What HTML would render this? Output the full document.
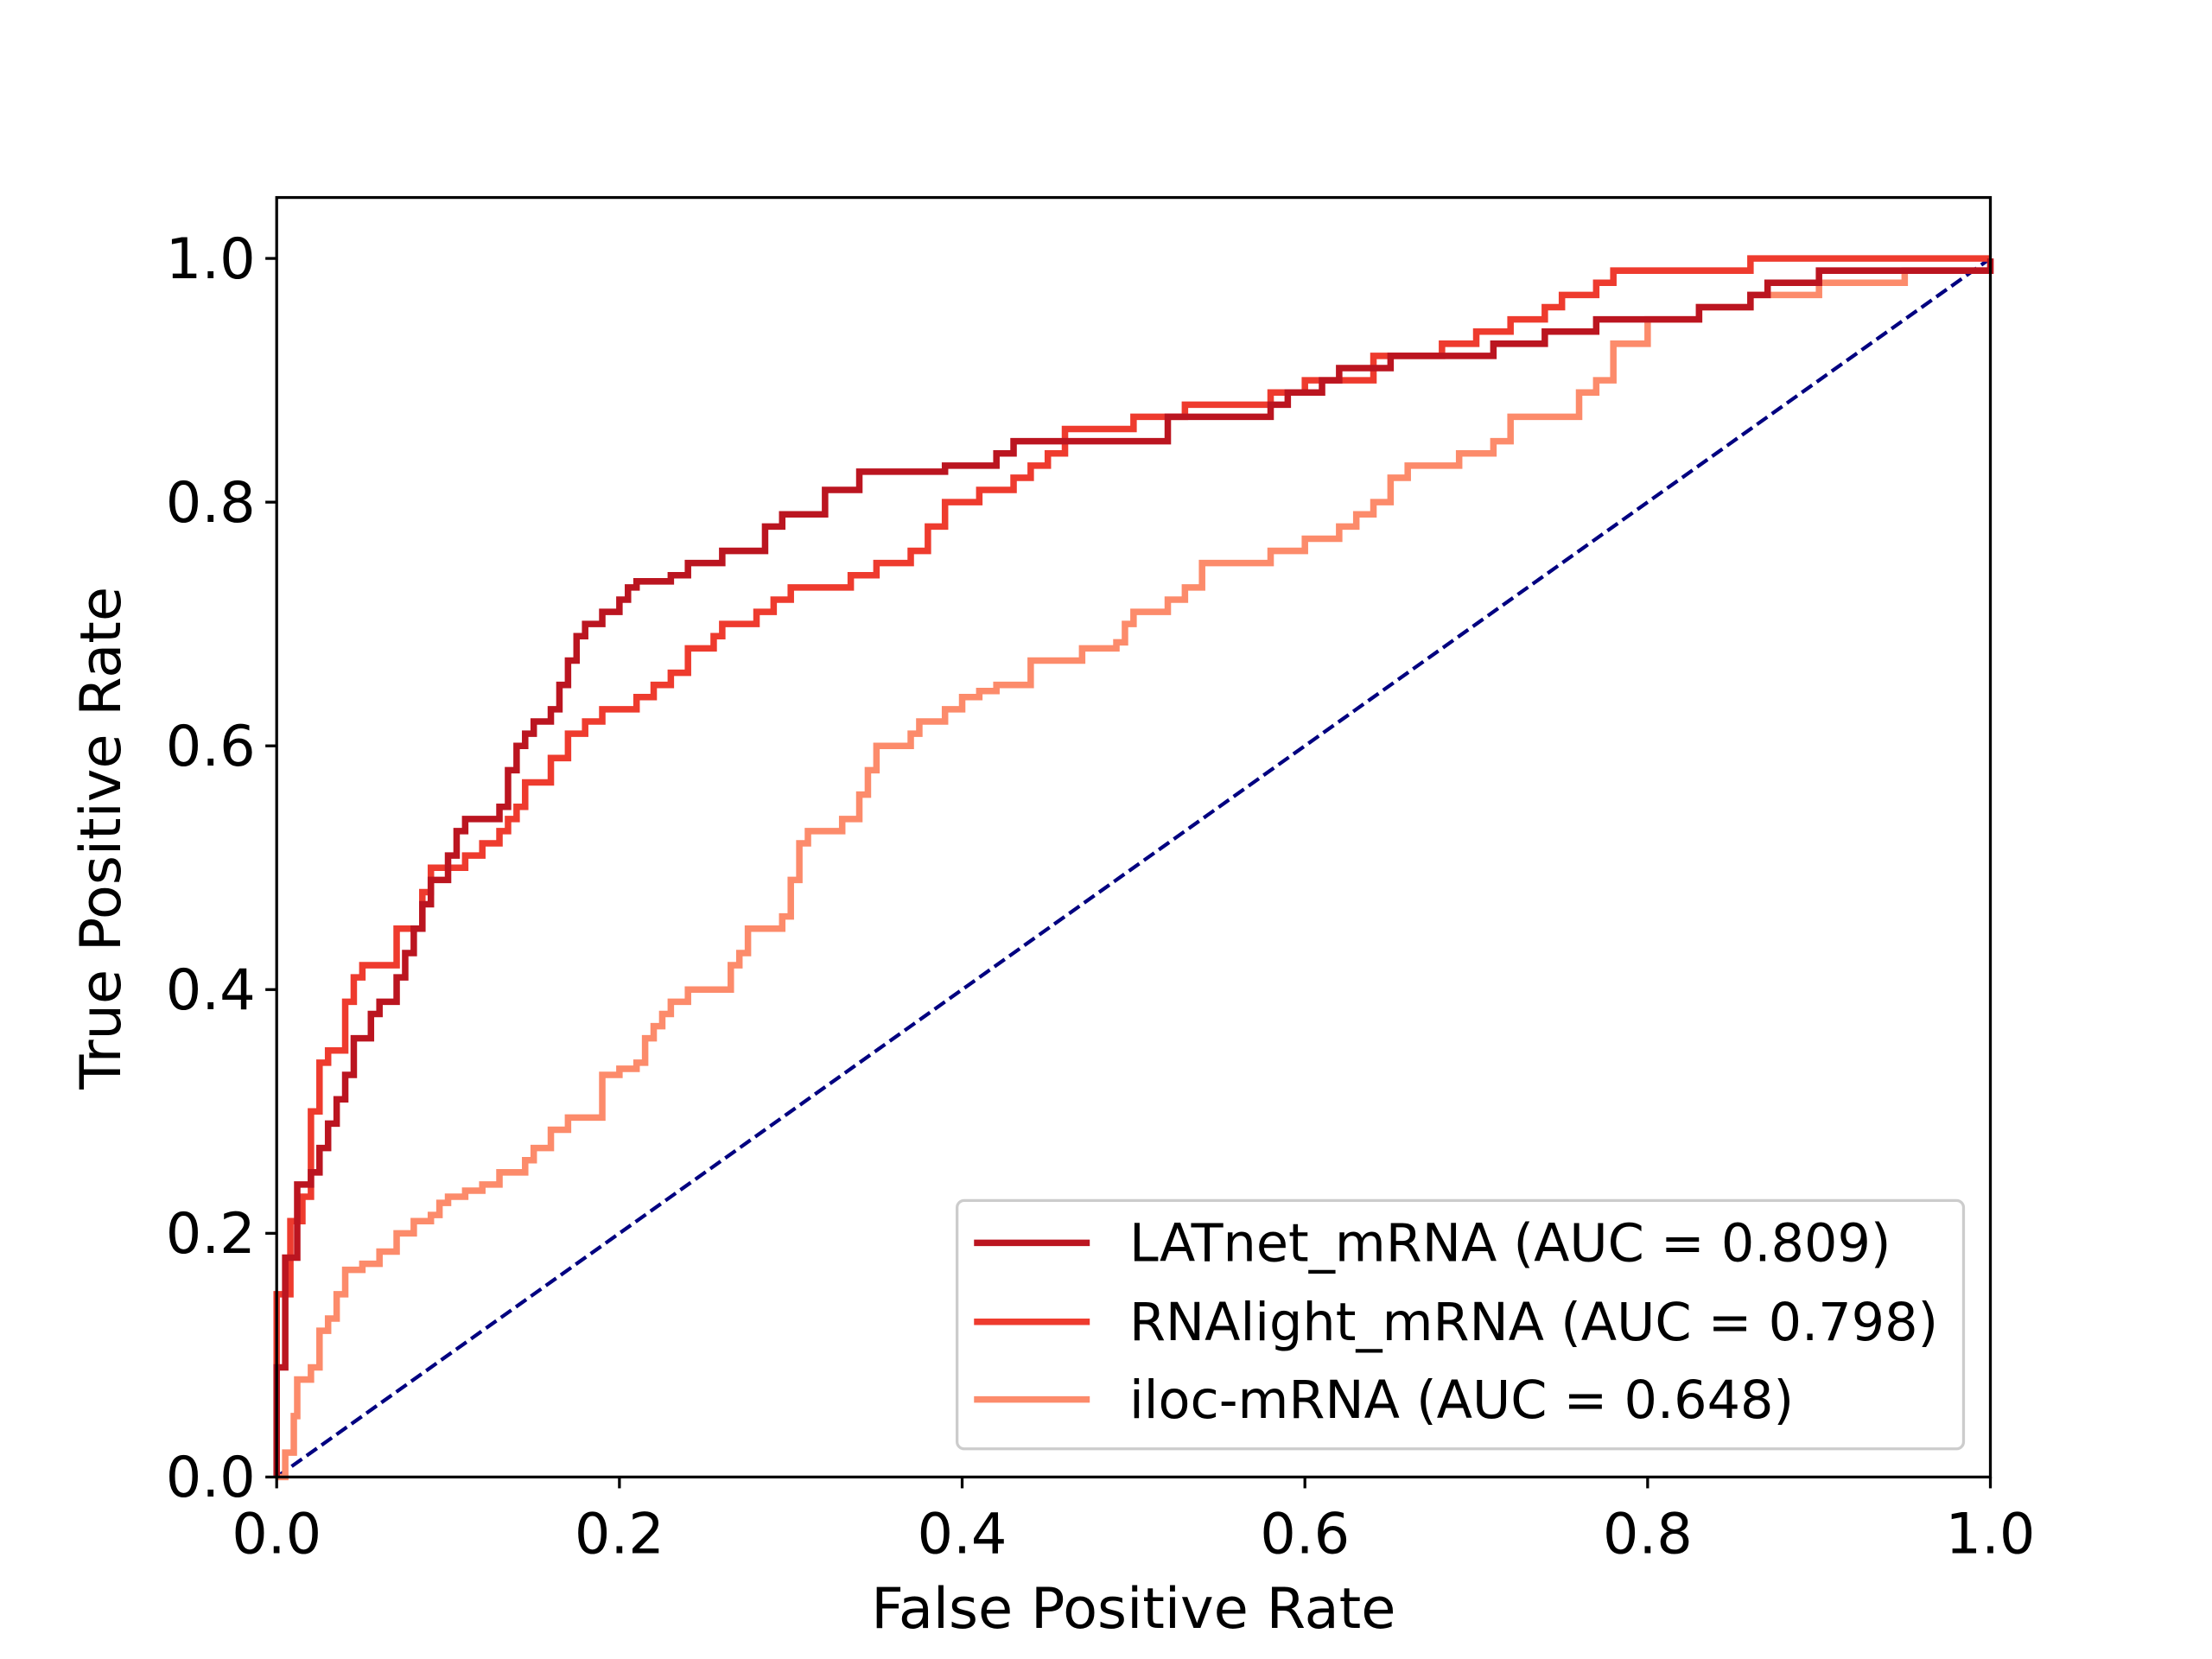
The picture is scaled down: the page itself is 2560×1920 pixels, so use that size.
<!DOCTYPE html>
<html><head><meta charset="utf-8"><style>
html,body{margin:0;padding:0;background:#fff;width:2560px;height:1920px;overflow:hidden}
svg{display:block}
text{font-family:"DejaVu Sans","Liberation Sans",sans-serif;fill:#000}
</style></head><body>
<svg id="chart" width="2560" height="1920" viewBox="0 0 1567 1176" preserveAspectRatio="none" xmlns="http://www.w3.org/2000/svg">
<rect width="1567" height="1176" fill="#fff"/>
<g id="plot"></g>
</svg>
<script>
const xTicks=[0,0.2,0.4,0.6,0.8,1.0];
const yTicks=[0,0.2,0.4,0.6,0.8,1.0];
const tickLabels=["0.0","0.2","0.4","0.6","0.8","1.0"];
const seriesNames=["LATnet_mRNA (AUC = 0.809)","RNAlight_mRNA (AUC = 0.798)","iloc-mRNA (AUC = 0.648)"];
const latnetFpr=[0,0,0.005,0.005,0.012,0.012,0.02,0.025,0.03,0.035,0.04,0.045,0.055,0.06,0.07,0.075,0.08,0.085,0.09,0.1,0.105,0.11,0.13,0.13,0.135,0.14,0.145,0.15,0.16,0.165,0.17,0.175,0.18,0.19,0.2,0.205,0.21,0.23,0.24,0.26,0.285,0.285,0.295,0.315,0.32,0.335,0.34,0.39,0.41,0.42,0.43,0.5,0.52,0.52,0.55,0.58,0.59,0.61,0.62,0.65,0.7,0.71,0.73,0.74,0.77,0.8,0.83,0.86,0.87,0.9,1,1];
const latnetTpr=[0,0.09,0.09,0.18,0.18,0.24,0.25,0.27,0.29,0.31,0.33,0.36,0.38,0.39,0.41,0.43,0.45,0.47,0.49,0.51,0.53,0.54,0.54,0.55,0.58,0.6,0.61,0.62,0.63,0.65,0.67,0.69,0.7,0.71,0.72,0.73,0.735,0.74,0.75,0.76,0.76,0.78,0.79,0.79,0.81,0.81,0.825,0.83,0.83,0.84,0.85,0.85,0.86,0.87,0.87,0.88,0.89,0.9,0.91,0.92,0.92,0.93,0.93,0.94,0.95,0.95,0.96,0.97,0.98,0.99,0.99,1];
const rnaFpr=[0,0,0.008,0.008,0.015,0.02,0.025,0.03,0.04,0.04,0.045,0.05,0.07,0.07,0.085,0.085,0.09,0.1,0.11,0.12,0.13,0.135,0.14,0.145,0.155,0.16,0.17,0.18,0.19,0.21,0.22,0.23,0.24,0.255,0.26,0.28,0.29,0.3,0.33,0.335,0.35,0.37,0.38,0.39,0.41,0.43,0.44,0.45,0.46,0.48,0.5,0.52,0.53,0.56,0.58,0.6,0.62,0.64,0.66,0.68,0.7,0.72,0.74,0.75,0.77,0.78,0.86,0.86,1];
const rnaTpr=[0,0.15,0.15,0.21,0.23,0.3,0.34,0.35,0.36,0.39,0.41,0.42,0.43,0.45,0.46,0.48,0.5,0.5,0.51,0.52,0.53,0.54,0.55,0.57,0.57,0.59,0.61,0.62,0.63,0.64,0.65,0.66,0.68,0.69,0.7,0.71,0.72,0.73,0.73,0.74,0.75,0.76,0.78,0.8,0.81,0.82,0.83,0.84,0.86,0.86,0.87,0.87,0.88,0.88,0.89,0.9,0.9,0.92,0.92,0.93,0.94,0.95,0.96,0.97,0.98,0.99,0.99,1,1];
const ilocFpr=[0,0.005,0.01,0.012,0.02,0.025,0.03,0.035,0.04,0.05,0.06,0.07,0.08,0.09,0.095,0.1,0.11,0.12,0.13,0.145,0.15,0.16,0.17,0.19,0.19,0.2,0.21,0.215,0.22,0.225,0.23,0.24,0.26,0.265,0.27,0.275,0.29,0.295,0.3,0.305,0.31,0.33,0.33,0.34,0.345,0.35,0.37,0.375,0.39,0.4,0.41,0.42,0.44,0.46,0.47,0.49,0.495,0.5,0.52,0.53,0.54,0.56,0.58,0.6,0.62,0.63,0.64,0.65,0.66,0.69,0.69,0.71,0.72,0.75,0.76,0.77,0.78,0.8,0.83,0.86,0.9,0.95,1];
const ilocTpr=[0,0.02,0.05,0.08,0.09,0.12,0.13,0.15,0.17,0.175,0.185,0.2,0.21,0.215,0.225,0.23,0.235,0.24,0.25,0.26,0.27,0.285,0.295,0.3,0.33,0.335,0.34,0.36,0.37,0.38,0.39,0.4,0.4,0.42,0.43,0.45,0.45,0.46,0.49,0.52,0.53,0.53,0.54,0.56,0.58,0.6,0.61,0.62,0.63,0.64,0.645,0.65,0.67,0.67,0.68,0.685,0.7,0.71,0.72,0.73,0.75,0.75,0.76,0.77,0.78,0.79,0.8,0.82,0.83,0.83,0.84,0.85,0.87,0.87,0.89,0.9,0.93,0.95,0.96,0.97,0.98,0.99,1];

const L=196,R=1410,T=140,B=1047;
const xs=v=>L+v*(R-L);
const ys=v=>B-v*(B-T)/1.05;
const NS="http://www.w3.org/2000/svg";
const g=document.getElementById('plot');
function mk(tag,attrs,parent){const e=document.createElementNS(NS,tag);for(const k in attrs)e.setAttribute(k,attrs[k]);(parent||g).appendChild(e);return e;}
function stepPath(fx,ty){let d='M'+xs(fx[0])+','+ys(ty[0]);for(let i=1;i<fx.length;i++){d+='H'+xs(fx[i])+'V'+ys(ty[i]);}return d;}

const colors=["#bb1520","#ee3b2e","#fc8b6b"];
const data=[[latnetFpr,latnetTpr],[rnaFpr,rnaTpr],[ilocFpr,ilocTpr]];
const names=["latnet-curve","rnalight-curve","iloc-curve"];

const diag=mk('line',{x1:xs(0),y1:ys(0),x2:xs(1),y2:ys(1),stroke:'#000080','stroke-width':2.6,'stroke-dasharray':'9,4'});



for(let s=2;s>=0;s--){
  const p=mk('path',{d:stepPath(data[s][0],data[s][1]),fill:'none',stroke:colors[s],'stroke-width':4.6,'stroke-linejoin':'miter'});
  
  
}
const frame=mk('rect',{x:L,y:T,width:R-L,height:B-T,fill:'none',stroke:'#000','stroke-width':2});



for(let i=0;i<xTicks.length;i++){
  const x=xs(xTicks[i]);
  const t=mk('line',{x1:x,y1:B,x2:x,y2:B+8,stroke:'#000','stroke-width':2});
  
  
  const lb=mk('text',{x:x,y:B+54,'font-size':40,'text-anchor':'middle'});
  lb.textContent=tickLabels[i];
  
  
}
for(let i=0;i<yTicks.length;i++){
  const y=ys(yTicks[i]);
  const t=mk('line',{x1:L-8,y1:y,x2:L,y2:y,stroke:'#000','stroke-width':2});
  
  
  const lb=mk('text',{x:L-15,y:y+14,'font-size':40,'text-anchor':'end'});
  lb.textContent=tickLabels[i];
  
  
}
const xt=mk('text',{x:(L+R)/2,y:1154,'font-size':40,'text-anchor':'middle'});
xt.textContent='False Positive Rate';


const yt=mk('text',{x:0,y:0,'font-size':40,'text-anchor':'middle',transform:'translate(85,594) rotate(-90)'});
yt.textContent='True Positive Rate';



const lg=mk('g',{});


mk('rect',{x:678,y:851,width:713,height:176,rx:5,fill:'#fff','fill-opacity':0.8,stroke:'#ccc','stroke-width':2},lg);
const ly=[881,937,992];
for(let s=0;s<3;s++){
  const ln=mk('line',{x1:690,y1:ly[s],x2:772,y2:ly[s],stroke:colors[s],'stroke-width':4.6},lg);
  
  
  const tx=mk('text',{x:800,y:ly[s]+13,'font-size':37},lg);
  tx.textContent=seriesNames[s];
  
  
}
</script>
</body></html>
